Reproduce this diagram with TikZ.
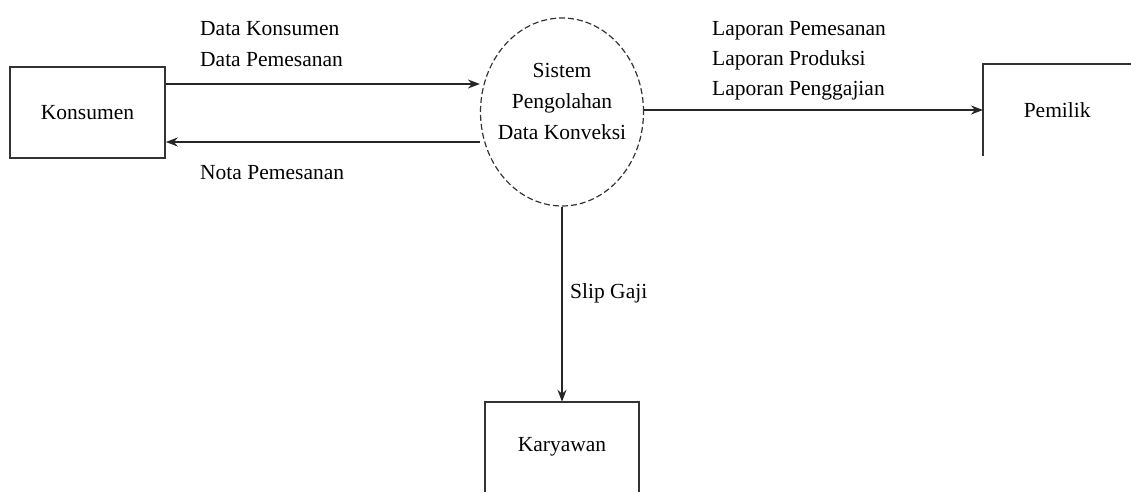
\documentclass[tikz,border=0pt]{standalone}
\usepackage{fontspec}
\setmainfont{Liberation Serif}
\usetikzlibrary{shapes.geometric,arrows.meta}
\begin{document}
\begin{tikzpicture}[x=1pt,y=-1pt,
  every node/.style={font=\fontsize{21.5}{31}\selectfont, text=black},
  boxline/.style={draw=black!80, line width=1.6pt},
  flow/.style={draw=black!85, line width=1.6pt, -{Stealth[length=12pt,width=9pt]}},
  lbl/.style={anchor=west, align=left, inner sep=0pt}]
\useasboundingbox (0,0) rectangle (1131,492);
% entities
\node[boxline, minimum width=155pt, minimum height=91pt, inner sep=0pt] (kons) at (87.5,112.5) {Konsumen};
\node[draw=black!80, dash pattern=on 6pt off 3pt, line width=1.2pt, ellipse, minimum width=163pt, minimum height=188pt, inner sep=0pt] (sys) at (562,112) {};
\node[align=center, inner sep=0pt] (systext) at (562,101) {Sistem\\Pengolahan\\Data Konveksi};
\node[minimum width=148pt, minimum height=92pt, inner sep=0pt, anchor=west] (pem) at (983,110) {Pemilik};
\draw[boxline] (pem.south west) -- (pem.north west) -- (pem.north east);
\node[minimum width=154pt, minimum height=90pt, inner sep=0pt] (kary) at (562,447) {Karyawan};
\draw[boxline] (kary.south west) -- (kary.north west) -- (kary.north east) -- (kary.south east);
% flows
\draw[flow] (kons.east |- 0,84) -- (sys.west |- 0,84);
\draw[flow] (sys.west |- 0,142) -- (kons.east |- 0,142);
\draw[flow] (sys.east |- 0,110) -- (pem.west);
\draw[flow] (sys.south) -- (kary.north);
% labels
\node[lbl] (l1) at (200,44) {Data Konsumen\\Data Pemesanan};
\node[lbl] (l2) at (200,173) {Nota Pemesanan};
\node[lbl, font=\fontsize{21.5}{30}\selectfont] (l3) at (712,61) {Laporan Pemesanan\\Laporan Produksi\\Laporan Penggajian};
\node[lbl] (l4) at (570,293) {Slip Gaji};
\end{tikzpicture}
\end{document}
